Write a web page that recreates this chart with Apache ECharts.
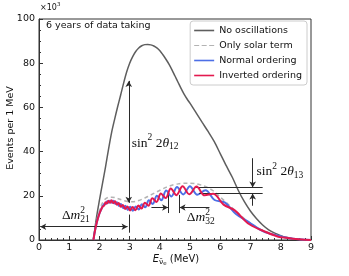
<!DOCTYPE html>
<html><head><meta charset="utf-8">
<script src="https://cdn.jsdelivr.net/npm/echarts@6/dist/echarts.min.js"></script>
<style>html,body{margin:0;padding:0;background:#fff}#c{width:349px;height:276px}</style>
</head><body><div id="c"></div>
<script>
// ---- data ----
const xTicks = [0,1,2,3,4,5,6,7,8,9];
const yTicks = [0,20,40,60,80,100];

const noOscE = [1.8,1.9,2.0,2.1,2.2,2.3,2.4,2.5,2.6,2.7,2.8,2.9,3.0,3.1,3.2,3.3,3.4,3.5,3.6,3.7,3.8,3.9,4.0,4.1,4.2,4.3,4.4,4.5,4.6,4.7,4.8,4.9,5.0,5.2,5.4,5.6,5.8,6.0,6.2,6.4,6.6,6.8,7.0,7.2,7.4,7.6,7.8,8.0,8.2,8.4,8.6,8.8,9.0];
const noOscY = [0,10,18,25.5,33,41,48.5,54.5,60.2,65.5,71,76,80,83,85.3,86.9,87.9,88.4,88.5,88.3,87.8,86.9,85.6,83.8,81.8,79.6,77.0,74.2,71.4,68.6,66.0,63.8,61.8,57.5,53.2,49.0,44.5,39.0,33.5,28.3,22.3,17.2,13.0,9.6,6.8,4.6,3.1,2.0,1.1,0.5,0.2,0.05,0];

const solarE = [1.8,1.85,1.9,1.95,2.0,2.1,2.2,2.3,2.4,2.5,2.6,2.7,2.8,2.9,3.0,3.1,3.2,3.4,3.6,3.8,4.0,4.2,4.4,4.6,4.8,5.0,5.2,5.4,5.6,5.8,6.0,6.2,6.4,6.6,6.8,7.0,7.2,7.4,7.6,7.8,8.0,8.2,8.4,8.6,8.8,9.0];
const solarY = [0,4.5,8,11,13.5,16.8,18.6,19.3,19.4,19.2,18.8,18.3,17.9,17.5,17.3,17.3,17.5,18.4,19.7,21.1,22.5,23.8,24.8,25.4,25.7,25.7,25.4,24.7,23.6,21.9,19.4,16.9,14.4,12.0,9.6,7.6,5.8,4.4,3.3,2.4,1.6,1.0,0.55,0.25,0.1,0];

const normalE = [1.8,1.85,1.9,1.95,2.0,2.05,2.1,2.164,2.208,2.255,2.303,2.354,2.407,2.463,2.521,2.582,2.646,2.713,2.783,2.858,2.936,3.019,3.107,3.2,3.299,3.404,3.516,3.635,3.763,3.901,4.048,4.208,4.38,4.568,4.771,4.994,5.239,5.509,5.809,6.143,6.517,6.94,7.422,7.976,8.2,8.4,8.6,8.8,9.0];
const normalY = [0,4,7.2,9.8,12,13.6,15.0,16.45,16.25,17.5,16.85,17.85,16.85,17.75,16.35,17.1,15.4,16.3,14.4,15.45,13.6,15.05,13.25,15.2,13.75,16.2,14.8,17.95,16.3,20.05,18.0,22.35,19.7,23.95,20.6,24.35,20.45,22.5,18.1,17.0,11.8,8.1,3.9,1.7,1.0,0.6,0.3,0.1,0];

const invertedE = [1.8,1.85,1.9,1.95,2.0,2.05,2.1,2.158,2.204,2.249,2.298,2.349,2.402,2.457,2.515,2.575,2.639,2.706,2.776,2.851,2.928,3.011,3.098,3.19,3.289,3.393,3.504,3.623,3.751,3.887,4.033,4.191,4.362,4.548,4.75,4.971,5.214,5.481,5.76,6.107,6.478,6.909,7.371,7.917,8.2,8.4,8.6,8.8,9.0];
const invertedY = [0,4,7.2,9.8,12,13.6,15.0,15.6,17.1,16.5,17.8,16.85,17.95,16.65,17.5,15.95,16.75,15.0,15.85,14.05,15.2,13.4,14.95,13.45,15.6,14.2,16.9,15.5,18.85,17.2,21.0,19.0,23.3,20.3,24.3,20.7,24.2,20.2,20.9,16.0,13.4,7.6,4.4,1.5,1.0,0.6,0.3,0.1,0];

const seriesNames = ['No oscillations','Only solar term','Normal ordering','Inverted ordering'];

function pairs(xs, ys){ return xs.map((x,i)=>[x, ys[i]]); }

const ANN = '#2a2a2a';
function seg(a,b,sym){ return [{coord:a, symbol: sym?sym[0]:'none'},{coord:b, symbol: sym?sym[1]:'none'}]; }
const DASH_ICON = 'path://M0,0h5v1h-5z M7.5,0h5v1h-5z M15,0h5v1h-5z';

const chart = echarts.init(document.getElementById('c'), null, {renderer:'canvas'});
const option = {
  animation:false,
  backgroundColor:'#fff',
  grid:{left:39,right:38,top:19,bottom:36,show:true,borderColor:'#333',borderWidth:1,backgroundColor:'transparent'},
  legend:{
    data:[{name:seriesNames[0],icon:'rect'},{name:seriesNames[1],icon:DASH_ICON},{name:seriesNames[2],icon:'rect'},{name:seriesNames[3],icon:'rect'}],
    orient:'vertical', right:42, top:21,
    itemWidth:20, itemHeight:1.6, itemGap:4,
    padding:[4,5,4,4], borderColor:'#cccccc', borderWidth:1, borderRadius:3, backgroundColor:'#fff',
    textStyle:{fontFamily:'DejaVu Sans', fontSize:9.5, color:'#111', lineHeight:11}
  },
  xAxis:{type:'value', min:xTicks[0], max:xTicks[xTicks.length-1], interval:1,
    axisLine:{show:true,lineStyle:{color:'#333',width:1}},
    axisTick:{show:true,inside:true,length:4,lineStyle:{color:'#333'}},
    minorTick:{show:true,splitNumber:5,length:2,lineStyle:{color:'#333'}},
    splitLine:{show:false},
    axisLabel:{fontFamily:'DejaVu Sans',fontSize:9.5,color:'#111',margin:3}},
  yAxis:{type:'value', min:yTicks[0], max:yTicks[yTicks.length-1], interval:20,
    axisLine:{show:true,lineStyle:{color:'#333',width:1}},
    axisTick:{show:true,inside:true,length:4,lineStyle:{color:'#333'}},
    minorTick:{show:true,splitNumber:4,length:2,lineStyle:{color:'#333'}},
    splitLine:{show:false},
    axisLabel:{fontFamily:'DejaVu Sans',fontSize:9.5,color:'#111',margin:4}},
  series:[
    {name:seriesNames[0], type:'line', data:pairs(noOscE,noOscY), smooth:0.3, showSymbol:false, symbol:'none',
     lineStyle:{color:'#5e5e5e',width:1.5}, itemStyle:{color:'#5e5e5e'}, z:2,
     markLine:{silent:true, animation:false, symbol:['none','none'], symbolSize:[5,6], label:{show:false},
       lineStyle:{color:ANN,width:1,type:'solid'},
       data:[
         seg([2.97,16.8],[2.97,72],['arrow','arrow']),
         seg([0.04,6],[2.93,6],['arrow','arrow']),
         seg([2.97,3.3],[2.97,11.5]),
         seg([4.27,12.2],[4.27,20.4]),
         seg([4.65,12.2],[4.65,20.4]),
         seg([3.72,14.7],[4.27,14.7],['none','arrow']),
         seg([5.64,14.7],[4.65,14.7],['none','arrow']),
         seg([5.2,23.8],[7.4,23.8]),
         seg([5.3,21.0],[7.4,21.0]),
         seg([7.07,37],[7.07,23.8],['none','arrow']),
         seg([7.07,15.5],[7.07,21.0],['none','arrow'])
       ]}},
    {name:seriesNames[1], type:'line', data:pairs(solarE,solarY), smooth:0.3, showSymbol:false, symbol:'none',
     lineStyle:{color:'#b3b3b3',width:1.5,type:[4,3]}, itemStyle:{color:'#b3b3b3'}, z:3},
    {name:seriesNames[2], type:'line', data:pairs(normalE,normalY), smooth:0.35, showSymbol:false, symbol:'none',
     lineStyle:{color:'#4d6fe6',width:2}, itemStyle:{color:'#4d6fe6'}, z:4},
    {name:seriesNames[3], type:'line', data:pairs(invertedE,invertedY), smooth:0.35, showSymbol:false, symbol:'none',
     lineStyle:{color:'#e3194f',width:2}, itemStyle:{color:'#e3194f'}, z:5}
  ]
};
chart.setOption(option);

// ---- text annotations (placed in data coordinates) ----
const ctx = document.createElement('canvas').getContext('2d');
function fontStr(size, it, fam){ return (it?'italic ':'') + size + 'px ' + (fam||'"Liberation Serif"'); }
function tw(t,f){ ctx.font=f; return ctx.measureText(t).width; }
function buildMath(px, py, segs, align, color){
  let x=0; const items=[];
  for(const s of segs){
    if(s.stack){
      const f=fontStr(s.size,false,s.fam);
      items.push({t:s.sup,f,x,dy:s.supDy}); items.push({t:s.sub,f,x,dy:s.subDy});
      x += Math.max(tw(s.sup,f),tw(s.sub,f));
    } else {
      const f=fontStr(s.size,s.it,s.fam);
      items.push({t:s.t,f,x,dy:s.dy||0}); x += tw(s.t,f);
    }
  }
  const x0 = align==='center' ? px-x/2 : px;
  return items.map(it=>({type:'text', silent:true, x:x0+it.x, y:py+it.dy, z:100,
    style:{text:it.t, font:it.f, fill:color||'#111', textAlign:'left', textVerticalAlign:'middle', verticalAlign:'middle'}}));
}
function P(x,y){ return chart.convertToPixel({gridIndex:0},[x,y]); }
const M=13.5, S=9.5;
let g=[];
let p=P(3.07,43.9);
g=g.concat(buildMath(p[0],p[1],[{t:'sin',size:M},{t:'2',size:S,dy:-5},{t:' 2',size:M},{t:'θ',size:M,it:true},{t:'12',size:S,dy:4}],'left'));
p=P(1.22,10.9);
g=g.concat(buildMath(p[0],p[1],[{t:'Δ',size:M},{t:'m',size:M,it:true},{stack:true,sup:'2',sub:'21',size:S,supDy:-5,subDy:4}],'center'));
p=P(5.35,10.0);
g=g.concat(buildMath(p[0],p[1],[{t:'Δ',size:M},{t:'m',size:M,it:true},{stack:true,sup:'2',sub:'32',size:S,supDy:-5,subDy:4}],'center'));
p=P(7.2,30.8);
g=g.concat(buildMath(p[0],p[1],[{t:'sin',size:M},{t:'2',size:S,dy:-5},{t:' 2',size:M},{t:'θ',size:M,it:true},{t:'13',size:S,dy:4}],'left'));
const SANS='"DejaVu Sans"';
g=g.concat(buildMath(176,259,[{t:'E',size:10,it:true,fam:SANS},{t:'ν̄',size:7.5,dy:3,fam:SANS},{t:'e',size:5.5,dy:5,fam:SANS},{t:' (MeV)',size:10,fam:SANS}],'center'));
g=g.concat(buildMath(40,8,[{t:'×10',size:8,fam:SANS},{t:'3',size:5.5,dy:-3,fam:SANS}],'left'));
g=g.concat(buildMath(46,25.5,[{t:'6 years of data taking',size:9.5,fam:SANS}],'left'));
g.push({type:'text', silent:true, x:11, y:128, rotation:Math.PI/2, z:100,
  style:{text:'Events per 1 MeV', font:'9.5px "DejaVu Sans"', fill:'#111', textAlign:'center', textVerticalAlign:'middle', verticalAlign:'middle'}});
chart.setOption({graphic:{elements:g}});
</script></body></html>
